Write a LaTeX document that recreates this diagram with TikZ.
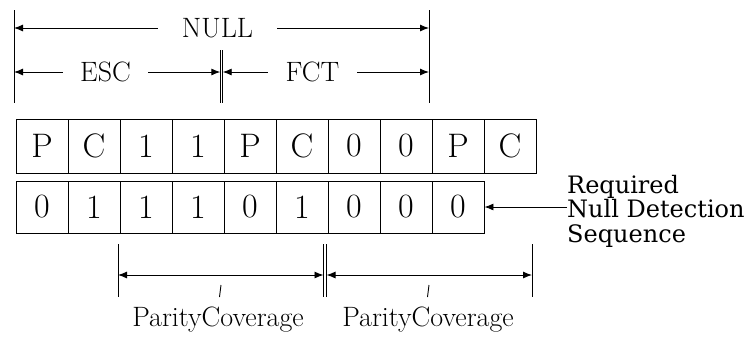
\documentclass[tikz,border=0pt]{standalone}
\usepackage{fontspec}
\newfontfamily\reqfont{DejaVu Serif}
\usetikzlibrary{arrows.meta}

\tikzset{
  cell/.style={draw=black,line width=0.9pt,minimum width=52pt,inner sep=0pt,font=\fontsize{34}{38}\selectfont},
  dimtext/.style={inner sep=0pt,minimum height=20pt,font=\fontsize{28}{30}\selectfont},
  dim/.style={line width=0.9pt,-{Latex[length=9pt,width=7pt]}},
  dimline/.style={line width=0.9pt},
}

\begin{document}
\begin{tikzpicture}[x=1pt,y=-1pt]
      \useasboundingbox (0,0) rectangle (751,341);

      % upper word
      \node[cell,minimum height=54pt] (p1) at (42,146) {P};
      \node[cell,minimum height=54pt] (p2) at (94,146) {C};
      \node[cell,minimum height=54pt] (p3) at (146,146) {1};
      \node[cell,minimum height=54pt] (p4) at (198,146) {1};
      \node[cell,minimum height=54pt] (p5) at (250,146) {P};
      \node[cell,minimum height=54pt] (p6) at (302,146) {C};
      \node[cell,minimum height=54pt] (p7) at (354,146) {0};
      \node[cell,minimum height=54pt] (p8) at (406,146) {0};
      \node[cell,minimum height=54pt] (p9) at (458,146) {P};
      \node[cell,minimum height=54pt] (p10) at (510,146) {C};

      % lower word
      \node[cell,minimum height=52pt] (q1) at (42,207) {0};
      \node[cell,minimum height=52pt] (q2) at (94,207) {1};
      \node[cell,minimum height=52pt] (q3) at (146,207) {1};
      \node[cell,minimum height=52pt] (q4) at (198,207) {1};
      \node[cell,minimum height=52pt] (q5) at (250,207) {0};
      \node[cell,minimum height=52pt] (q6) at (302,207) {1};
      \node[cell,minimum height=52pt] (q7) at (354,207) {0};
      \node[cell,minimum height=52pt] (q8) at (406,207) {0};
      \node[cell,minimum height=52pt] (q9) at (458,207) {0};

      \node[anchor=west,align=left,inner sep=0pt,font=\reqfont\fontsize{24}{24.5}\selectfont] (req) at (567,211) {Required\\Null Detection\\Sequence};
      \draw[dim] (req.west |- q9.east) -- (q9.east);

      % NULL / ESC / FCT
      \draw[dimline] (14,10) -- (14,103);
      \draw[dimline] (429,10) -- (429,103);
      \draw[dimline] (220.3,50) -- (220.3,103);
      \draw[dimline] (222.7,50) -- (222.7,103);

      \coordinate (nullL) at (14,28);
      \coordinate (nullR) at (429,28);
      \coordinate (escL) at (14,72);
      \coordinate (escR) at (220.3,72);
      \coordinate (fctL) at (222.7,72);
      \coordinate (fctR) at (429,72);

      \node[dimtext,minimum width=119pt] (null) at (217.5,28) {NULL};
      \node[dimtext,minimum width=85pt] (esc) at (105.5,72) {ESC};
      \node[dimtext,minimum width=89pt] (fct) at (312.5,72) {FCT};

      \draw[dim] (null.west) -- (nullL);
      \draw[dim] (null.east) -- (nullR);
      \draw[dim] (esc.west) -- (escL);
      \draw[dim] (esc.east) -- (escR);
      \draw[dim] (fct.west) -- (fctL);
      \draw[dim] (fct.east) -- (fctR);

      % parity coverage
      \draw[dimline] (118,244) -- (118,297);
      \draw[dimline] (532,244) -- (532,297);
      \draw[dimline] (323.5,244) -- (323.5,297);
      \draw[dimline] (326.5,244) -- (326.5,297);
      \draw[dimline] (221,285) -- (219.5,297);
      \draw[dimline] (429,285) -- (427.5,297);

      \coordinate (pcA) at (118,275);
      \coordinate (pcB) at (323.5,275);
      \coordinate (pcC) at (326.5,275);
      \coordinate (pcD) at (532,275);
      \draw[dim,{Latex[length=9pt,width=7pt]}-{Latex[length=9pt,width=7pt]}] (pcA) -- (pcB);
      \draw[dim,{Latex[length=9pt,width=7pt]}-{Latex[length=9pt,width=7pt]}] (pcC) -- (pcD);

      \node[dimtext] (pc1) at (218,320) {ParityCoverage};
      \node[dimtext] (pc2) at (428,320) {ParityCoverage};

\end{tikzpicture}
\end{document}
